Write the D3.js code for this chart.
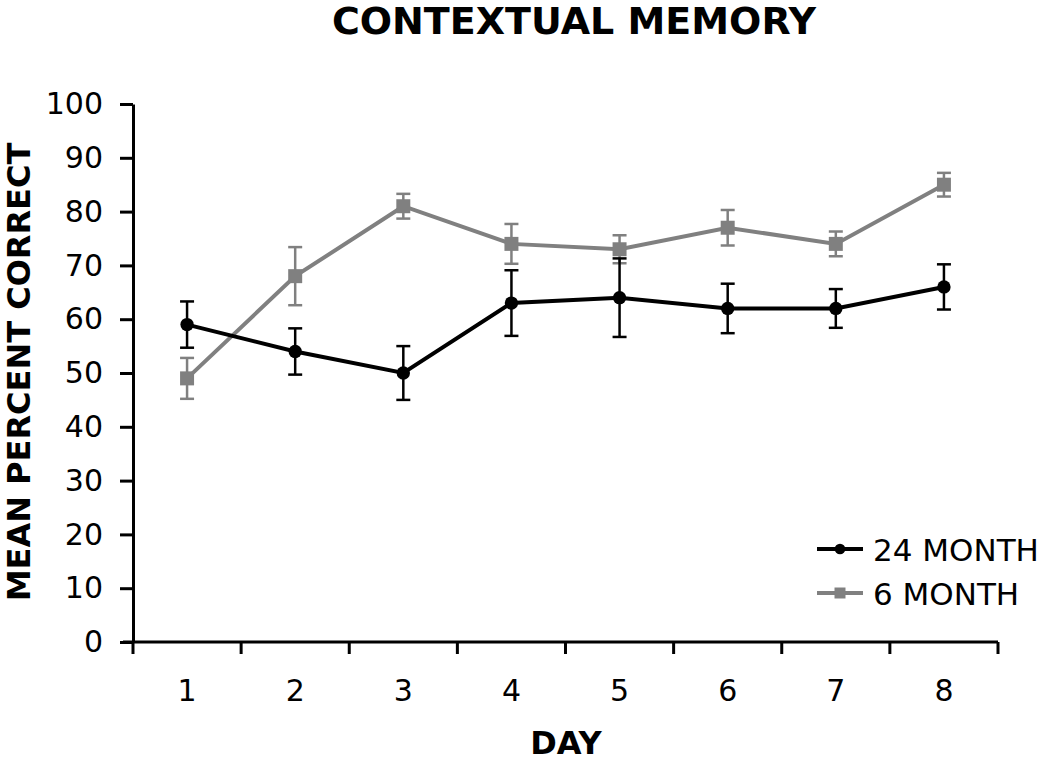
<!DOCTYPE html>
<html>
<head>
<meta charset="utf-8">
<script src="https://cdn.jsdelivr.net/npm/d3@7"></script>
<style>
  body { margin: 0; background: #fff; }
  text { font-family: "DejaVu Sans", Verdana, sans-serif; fill: #000; }
</style>
</head>
<body>
<div id="container"></div>
<script>
// data
var days = ["1", "2", "3", "4", "5", "6", "7", "8"];
var old24 = [59, 54, 50, 63, 64, 62, 62, 66];
var old24Err = [4.3, 4.3, 5, 6.1, 7.3, 4.6, 3.6, 4.2];
var young6 = [49, 68, 81, 74, 73, 77, 74, 85];
var young6Err = [3.8, 5.4, 2.3, 3.7, 2.6, 3.3, 2.3, 2.2];
var yTicks = [0, 10, 20, 30, 40, 50, 60, 70, 80, 90, 100];

var margin = {top: 104, right: 52, bottom: 120, left: 133},
    width = 1050 - margin.left - margin.right,
    height = 762 - margin.top - margin.bottom;

var svg = d3.select("#container")
  .append("svg")
    .attr("width", 1050)
    .attr("height", 762);

var g = svg.append("g")
    .attr("transform", "translate(" + margin.left + "," + margin.top + ")");

var x = d3.scaleBand().domain(days).range([0, width]);
var y = d3.scaleLinear().domain([0, 100]).range([height, 0]);

// y axis
var yAxis = g.append("g")
    .call(d3.axisLeft(y).tickValues(yTicks).tickSize(13).tickSizeOuter(0).tickPadding(17));
yAxis.select(".domain").attr("stroke-width", 3);
yAxis.selectAll(".tick line").attr("stroke-width", 3);
yAxis.selectAll("text").style("font-size", "30px").attr("fill", "#000");

// x axis: line plus ticks on band edges, labels in the middle
var xAxis = g.append("g").attr("transform", "translate(0," + height + ")");
xAxis.append("line")
    .attr("x1", -10).attr("x2", width)
    .attr("stroke", "#000").attr("stroke-width", 3);
var edges = days.map(function(d) { return x(d); }).concat([width]);
xAxis.selectAll(".edge")
    .data(edges)
    .enter().append("line")
    .attr("x1", function(d) { return d; })
    .attr("x2", function(d) { return d; })
    .attr("y1", 0).attr("y2", 12)
    .attr("stroke", "#000").attr("stroke-width", 3);
xAxis.selectAll(".lbl")
    .data(days)
    .enter().append("text")
    .attr("x", function(d) { return x(d) + x.bandwidth() / 2; })
    .attr("y", 59)
    .attr("text-anchor", "middle")
    .style("font-size", "30px")
    .text(function(d) { return d; });

var cx = function(d, i) { return x(days[i]) + x.bandwidth() / 2; };

function drawSeries(vals, errs, color, shape) {
    var s = g.append("g");
    s.append("path")
        .datum(vals)
        .attr("fill", "none")
        .attr("stroke", color)
        .attr("stroke-width", 4)
        .attr("d", d3.line().x(cx).y(function(d) { return y(d); }));

    // error bars
    var eb = s.selectAll(".err")
        .data(vals)
        .enter().append("g")
        .attr("stroke", color)
        .attr("stroke-width", 2.5);
    eb.append("line")
        .attr("x1", cx).attr("x2", cx)
        .attr("y1", function(d, i) { return y(d + errs[i]); })
        .attr("y2", function(d, i) { return y(d - errs[i]); });
    [1, -1].forEach(function(sgn) {
        eb.append("line")
            .attr("x1", function(d, i) { return cx(d, i) - 7; })
            .attr("x2", function(d, i) { return cx(d, i) + 7; })
            .attr("y1", function(d, i) { return y(d + sgn * errs[i]); })
            .attr("y2", function(d, i) { return y(d + sgn * errs[i]); });
    });

    // markers
    s.selectAll(".mk")
        .data(vals)
        .enter().append("path")
        .attr("transform", function(d, i) { return "translate(" + cx(d, i) + "," + y(d) + ")"; })
        .attr("d", d3.symbol().type(shape).size(shape === d3.symbolSquare ? 196 : 140))
        .attr("fill", color);
}

drawSeries(young6, young6Err, "#808080", d3.symbolSquare);
drawSeries(old24, old24Err, "#000", d3.symbolCircle);

// legend
var legend = [
    {name: "24 MONTH", color: "#000", shape: d3.symbolCircle, size: 90},
    {name: "6 MONTH", color: "#808080", shape: d3.symbolSquare, size: 121}
];
var lg = svg.append("g").attr("transform", "translate(817,549)");
legend.forEach(function(l, i) {
    var row = lg.append("g").attr("transform", "translate(0," + (i * 44) + ")");
    row.append("line").attr("x1", 0).attr("x2", 46)
        .attr("stroke", l.color).attr("stroke-width", 4);
    row.append("path").attr("transform", "translate(23,0)")
        .attr("d", d3.symbol().type(l.shape).size(l.size))
        .attr("fill", l.color);
    row.append("text").attr("x", 56).attr("y", 12)
        .style("font-size", "31px")
        .text(l.name);
});

// titles (nudged a little inward so nothing is clipped)
svg.append("text")
    .attr("x", 574).attr("y", 34)
    .attr("text-anchor", "middle")
    .style("font-size", "38px").style("font-weight", "bold")
    .text("CONTEXTUAL MEMORY");

svg.append("text")
    .attr("transform", "translate(30,372) rotate(-90)")
    .attr("text-anchor", "middle")
    .style("font-size", "32px").style("font-weight", "bold")
    .text("MEAN PERCENT CORRECT");

svg.append("text")
    .attr("x", 566).attr("y", 754)
    .attr("text-anchor", "middle")
    .style("font-size", "32px").style("font-weight", "bold")
    .text("DAY");
</script>
</body>
</html>
